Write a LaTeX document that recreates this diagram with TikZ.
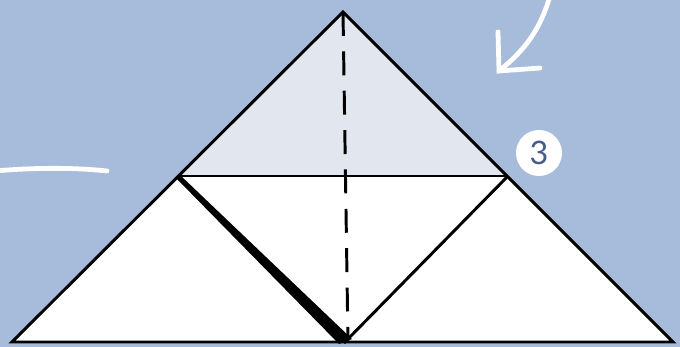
\documentclass[tikz,border=0pt]{standalone}
\usepackage{fontspec}
\setmainfont{Lato}
\definecolor{fondo}{HTML}{A7BBDB}
\definecolor{pliegue}{HTML}{E2E6EF}
\definecolor{numero}{HTML}{465C8A}
\begin{document}
\begin{tikzpicture}[x=0.025cm, y=-0.025cm, line join=miter,
    borde/.style={black, line width=2.1pt},
    trazo/.style={white, line width=3.4pt, line cap=round},
    marca/.style={circle, fill=white, minimum size=1.15cm, inner sep=0pt, text=numero, font=\fontsize{23}{23}\selectfont}]

% =============================================
% FONDO
% =============================================
\fill[fondo] (0,0) rectangle (680,347);
\useasboundingbox (0,0) rectangle (680,347);

% Puntos del papel
\coordinate (apex) at (343,12);
\coordinate (bl) at (12,342);
\coordinate (br) at (673,342);
\coordinate (ml) at (178,176);
\coordinate (mr) at (508,176);
\coordinate (mb) at (345,342);

% =============================================
% PAPEL
% =============================================
\fill[white] (apex) -- (bl) -- (br) -- cycle;
\fill[pliegue] (apex) -- (ml) -- (mr) -- cycle;

% Lineas de pliegue
\draw[borde] (ml) -- (mr);
\draw[borde] (ml) -- (mb) -- (mr);
\fill[black] (180,175) -- (352,339) -- (339,344) -- (177,179) -- cycle;
\draw[black, line width=2.1pt, dash pattern=on 17 off 11, dash phase=0pt] (apex) -- (348,342);

% Contorno
\draw[borde] (apex) -- (bl) -- (br) -- cycle;

% =============================================
% FLECHAS Y NUMERO
% =============================================
% Flecha curva (arriba derecha)
\draw[trazo] (550,-4) .. controls (540,30) and (525,50) .. (499,71);
\draw[trazo] (498,32) -- (499,71) -- (540,68);

% Trazo izquierdo
\draw[trazo] (-5,171) .. controls (40,167) and (80,168) .. (107,171);

% Numero del paso
\node[marca] (paso) at (539,153) {3};

\end{tikzpicture}
\end{document}
